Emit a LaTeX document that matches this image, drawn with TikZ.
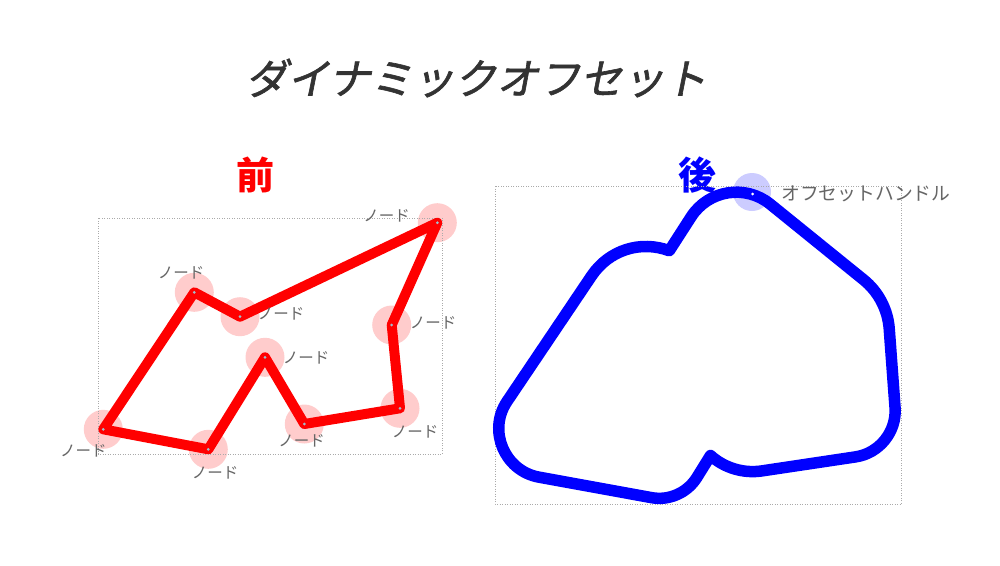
\documentclass[tikz,border=0pt]{standalone}
\usepackage{fontspec}
\usetikzlibrary{calc}
\newfontfamily\jpfont{Noto Sans CJK JP}
\newfontfamily\jpslant[FakeSlant=0.2,FakeBold=1.5]{Noto Sans CJK JP}
\definecolor{labelgray}{HTML}{666666}
\definecolor{titlegray}{HTML}{333333}
\definecolor{pinkfill}{HTML}{FFCCCC}
\definecolor{handlefill}{HTML}{CCCCFF}
\definecolor{boxgray}{HTML}{AAAAAA}
\definecolor{dotcol}{HTML}{9FBFCF}
\begin{document}
\begin{tikzpicture}[x=1pt,y=-1pt,
  vtx/.style={circle, fill=pinkfill, minimum size=39pt, inner sep=0pt},
  lbl/.style={font=\jpfont\fontsize{15.5}{18}\selectfont, text=labelgray, inner sep=0pt},
  redpath/.style={draw=red, line width=10pt, line join=round, line cap=round},
  bluepath/.style={draw=blue, line width=11.5pt, line join=round},
  bbox/.style={draw=boxgray, dash pattern=on 1pt off 1.5pt, line width=0.7pt},
  vdot/.style={circle, fill=dotcol, minimum size=3pt, inner sep=0pt},
  hdot/.style={circle, fill=white, minimum size=3pt, inner sep=0pt}]
\fill[white] (0,0) rectangle (1000,565);
\useasboundingbox (0,0) rectangle (1000,565);

% title and headings
\node[font=\jpslant\fontsize{42}{48}\selectfont, text=titlegray] (title) at (476,78) {ダイナミックオフセット};
\node[font=\jpfont\bfseries\fontsize{38}{44}\selectfont, text=red] (mae) at (255,175) {前};
\node[font=\jpfont\bfseries\fontsize{38}{44}\selectfont, text=blue] (ato) at (697,175) {後};

% ---------- before ----------
\node[vtx] (A) at (103.3,429.3) {};
\node[vtx] (B) at (208.3,449.3) {};
\node[vtx] (C) at (265,357.3) {};
\node[vtx] (D) at (304.3,424) {};
\node[vtx] (E) at (400,408.3) {};
\node[vtx] (F) at (391.7,325) {};
\node[vtx] (G) at (437.3,222.7) {};
\node[vtx] (H) at (240,316.7) {};
\node[vtx] (I) at (194.3,292.3) {};

\draw[bbox] (98.3,218.3) rectangle (442.3,454);

\draw[redpath] (A.center) -- (B.center) -- (C.center) -- (D.center) -- (E.center)
  -- (F.center) -- (G.center) -- (H.center) -- (I.center) -- cycle;

\foreach \n in {A,B,C,D,E,F,G,H,I} \node[vdot] (\n-dot) at (\n) {};

\node[lbl] (lA) at (83.3,450.5) {ノード};
\node[lbl] (lB) at (215,473.3) {ノード};
\node[lbl] (lC) at (306,357.5) {ノード};
\node[lbl] (lD) at (301.7,440.5) {ノード};
\node[lbl] (lE) at (415,431.5) {ノード};
\node[lbl] (lF) at (433,323) {ノード};
\node[lbl] (lG) at (386.7,215.5) {ノード};
\node[lbl] (lH) at (281,314) {ノード};
\node[lbl] (lI) at (181,272.5) {ノード};

% ---------- after ----------
\node[circle, fill=handlefill, minimum size=38pt, inner sep=0pt] (handle) at (752,192) {};
\draw[bbox] (495,186) rectangle (901.7,504);

\coordinate (K1) at (669.3,250.7);
\coordinate (K2) at (710.5,455.5);
\coordinate (V1) at (465.1,463.7);
\coordinate (V2) at (681,503);
\coordinate (V3) at (732.5,475.3);
\coordinate (V4) at (898.2,450.5);
\coordinate (V5) at (887,298.7);
\coordinate (V6) at (723.6,166.4);
\coordinate (V7) at (620.6,232.7);

\draw[bluepath]
 (K1) -- ($(V6)!60pt!(K1)$)
 .. controls ($(V6)!28pt!(K1)$) and ($(V6)!28pt!(V5)$) .. ($(V6)!60pt!(V5)$)
 -- ($(V5)!30pt!(V6)$)
 .. controls ($(V5)!11pt!(V6)$) and ($(V5)!11pt!(V4)$) .. ($(V5)!30pt!(V4)$)
 -- ($(V4)!43pt!(V5)$)
 .. controls ($(V4)!19pt!(V5)$) and ($(V4)!19pt!(V3)$) .. ($(V4)!43pt!(V3)$)
 -- ($(V3)!29.6pt!(V4)$)
 .. controls ($(V3)!11pt!(V4)$) and ($(V3)!11pt!(K2)$) .. (K2)
 -- ($(V2)!30pt!(K2)$)
 .. controls ($(V2)!12pt!(K2)$) and ($(V2)!12pt!(V1)$) .. ($(V2)!30pt!(V1)$)
 -- ($(V1)!75pt!(V2)$)
 .. controls ($(V1)!40pt!(V2)$) and ($(V1)!40pt!(V7)$) .. ($(V1)!75pt!(V7)$)
 -- ($(V7)!52pt!(V1)$)
 .. controls ($(V7)!21pt!(V1)$) and ($(V7)!21pt!(K1)$) .. (K1)
 -- cycle;

\node[hdot] (handle-dot) at (752.7,194) {};
\node[anchor=west, font=\jpfont\fontsize{18.8}{22}\selectfont, text=labelgray, inner sep=0pt] (hlabel) at (781,194) {オフセットハンドル};
\end{tikzpicture}
\end{document}
